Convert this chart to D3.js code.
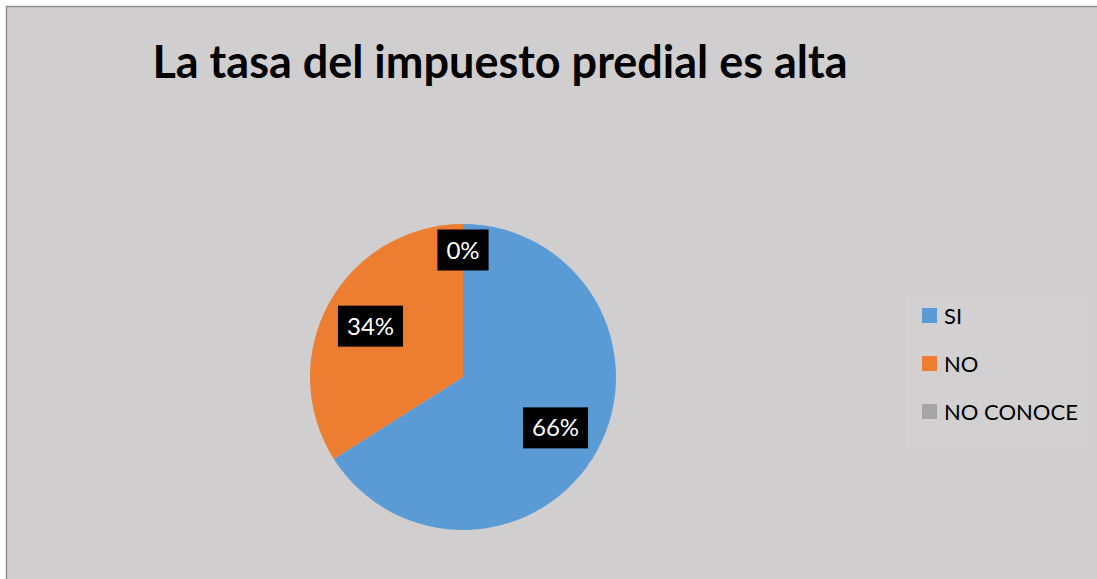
<!DOCTYPE html>
<html>
<head>
<meta charset="utf-8">
<script src="https://cdn.jsdelivr.net/npm/d3@7"></script>
<style>
  body { margin: 0; background: #fff; }
  svg { display: block; }
</style>
</head>
<body>
<div id="chartBox"></div>
<script>
(function () {
  'use strict';

  var title = "La tasa del impuesto predial es alta";
  var categories = ["SI", "NO", "NO CONOCE"];
  var values = [66, 34, 0];
  var labels = ["66%", "34%", "0%"];
  var colors = ["#5b9bd5", "#ed7d31", "#a5a5a5"];

  var outerWidth = 1097,
      outerHeight = 579,
      cx = 463,
      cy = 377,
      radius = 153;

  var svg = d3.select("#chartBox").append("svg")
    .attr("width", outerWidth)
    .attr("height", outerHeight);

  // chart area
  svg.append("rect")
    .attr("x", 6.5).attr("y", 6.5)
    .attr("width", outerWidth + 10).attr("height", outerHeight + 10)
    .attr("fill", "#d0cecf")
    .attr("stroke", "#8e8e8e")
    .attr("stroke-width", 1.5);

  svg.append("text")
    .attr("x", 500)
    .attr("y", 78)
    .attr("text-anchor", "middle")
    .attr("font-family", "Lato, 'Open Sans', sans-serif")
    .attr("font-weight", "bold")
    .attr("font-size", 45)
    .attr("fill", "#000")
    .text(title);

  var data = categories.map(function (c, i) {
    return { name: c, value: values[i], label: labels[i], color: colors[i] };
  });

  var pie = d3.pie().sort(null).value(function (d) { return d.value; });
  var arc = d3.arc().innerRadius(0).outerRadius(radius);

  var pieG = svg.append("g")
    .attr("transform", "translate(" + cx + "," + cy + ")");

  var arcs = pie(data);

  pieG.selectAll("path")
    .data(arcs)
    .enter().append("path")
    .attr("d", arc)
    .attr("fill", function (d) { return d.data.color; });

  // data labels
  var lab = pieG.selectAll(".lab")
    .data(arcs)
    .enter().append("g")
    .attr("class", "lab")
    .attr("transform", function (d) {
      var r = d.data.value === 0 ? radius * 0.83 : radius * 0.69;
      var a = (d.startAngle + d.endAngle) / 2;
      return "translate(" + (Math.sin(a) * r) + "," + (-Math.cos(a) * r) + ")";
    });

  lab.append("text")
    .attr("text-anchor", "middle")
    .attr("dy", "0.36em")
    .attr("font-family", "Lato, 'Open Sans', sans-serif")
    .attr("font-size", 24)
    .attr("fill", "#fff")
    .text(function (d) { return d.data.label; });

  lab.each(function () {
    var g = d3.select(this);
    var bb = g.select("text").node().getBBox();
    g.insert("rect", "text")
      .attr("x", bb.x - 9)
      .attr("y", -20.5)
      .attr("width", bb.width + 18)
      .attr("height", 41)
      .attr("fill", "#000");
  });

  // legend
  var legend = svg.append("g").attr("transform", "translate(906,296)");
  legend.append("rect")
    .attr("width", 182).attr("height", 154)
    .attr("fill", "#d2d0d1");

  var item = legend.selectAll(".item")
    .data(data)
    .enter().append("g")
    .attr("class", "item")
    .attr("transform", function (d, i) { return "translate(16," + (12 + i * 48) + ")"; });

  item.append("rect")
    .attr("width", 15).attr("height", 15)
    .attr("fill", function (d) { return d.color; });

  item.append("text")
    .attr("x", 22)
    .attr("y", 8)
    .attr("dy", "0.36em")
    .attr("font-family", "Lato, 'Open Sans', sans-serif")
    .attr("font-size", 22)
    .attr("fill", "#000")
    .text(function (d) { return d.name; });
})();
</script>
</body>
</html>
